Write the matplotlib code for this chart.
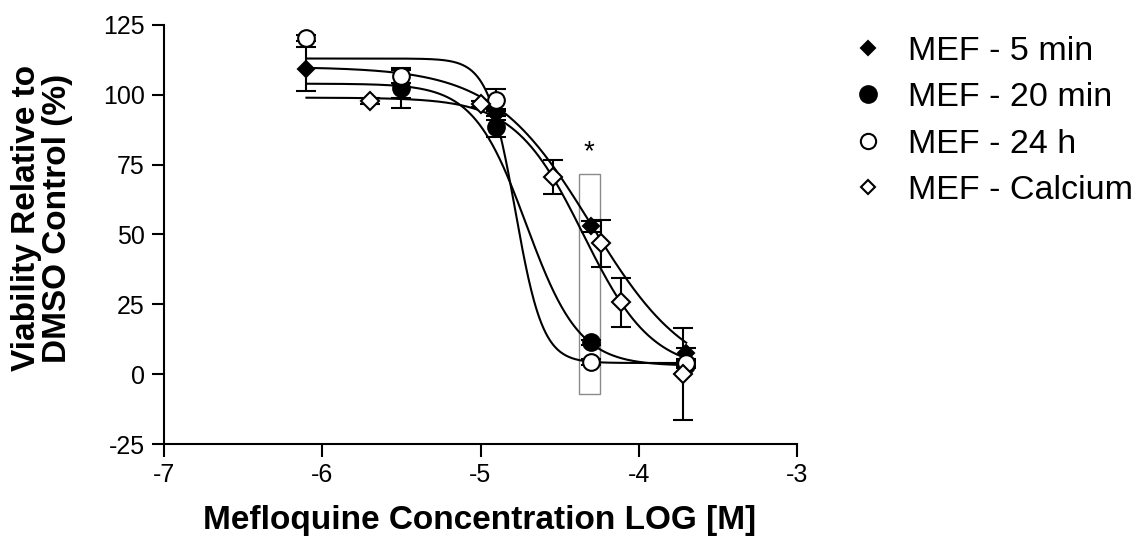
import numpy as np
import matplotlib
matplotlib.use("Agg")
import matplotlib.pyplot as plt
from matplotlib.lines import Line2D
from matplotlib.patches import Rectangle

plt.rcParams['font.family'] = ['Liberation Sans', 'DejaVu Sans']

# ---- data (log molar concentration, viability %, SEM) ----
x_5min = [-6.1, -5.5, -4.9, -4.3, -3.7]
y_5min = [109.3, 104.0, 93.0, 53.0, 7.4]
e_5min = [8.0, 5.0, 2.0, 2.0, 2.0]

x_20min = [-5.5, -4.9, -4.3, -3.7]
y_20min = [102.4, 88.6, 11.4, 3.2]
e_20min = [7.2, 3.8, 1.0, 1.0]

x_24h = [-6.1, -5.5, -4.9, -4.3, -3.7]
y_24h = [120.3, 106.7, 98.2, 4.4, 4.0]
e_24h = [1.0, 2.5, 4.0, 1.0, 1.0]

x_ca = [-5.7, -5.0, -4.54, -4.24, -4.115, -3.72]
y_ca = [97.8, 96.8, 70.5, 46.8, 25.7, 0.0]
e_ca = [1.0, 1.0, 6.0, 8.3, 8.7, 16.5]

# sigmoidal fit parameters (top, bottom, logEC50, hill) per series
fit_top = [110.0, 104.0, 113.0, 99.0]
fit_bottom = [-3.0, 3.0, 4.0, 1.0]
fit_logec50 = [-4.30, -4.71, -4.78, -4.35]
fit_hill = [1.4, 2.6, 5.0, 2.0]
fit_range = [-6.1, -3.7]

labels = ["MEF - 5 min", "MEF - 20 min", "MEF - 24 h", "MEF - Calcium"]

# highlighted region and significance mark
box_x = [-4.378, -4.248]
box_y = [-7.2, 71.7]
star_xy = [-4.313, 79.5]

x_ticks = [-7, -6, -5, -4, -3]
y_ticks = [-25, 0, 25, 50, 75, 100, 125]

W, H = 1140, 546
fig = plt.figure(figsize=(W/100, H/100), dpi=100)
ax = fig.add_axes([164/W, 1-444/H, (797-164)/W, (444-25)/H])

xs = np.linspace(fit_range[0], fit_range[1], 400)
for T, B, c, h in zip(fit_top, fit_bottom, fit_logec50, fit_hill):
    ys = B + (T - B) / (1 + 10 ** ((xs - c) * h))
    ax.plot(xs, ys, color='black', lw=1.5, zorder=2)

ax.add_patch(Rectangle((box_x[0], box_y[0]), box_x[1]-box_x[0], box_y[1]-box_y[0],
                       fill=False, edgecolor='#8a8a8a', lw=1.0, zorder=1.5))
ax.text(star_xy[0], star_xy[1], "*", ha='center', va='center', fontsize=20)

styles = [
    dict(marker='D', ms=8.2, mfc='black', mec='black'),
    dict(marker='o', ms=12, mfc='black', mec='black'),
    dict(marker='o', ms=12, mfc='white', mec='black'),
    dict(marker='D', ms=9, mfc='white', mec='black'),
]
series = [(x_5min, y_5min, e_5min), (x_20min, y_20min, e_20min),
          (x_24h, y_24h, e_24h), (x_ca, y_ca, e_ca)]
for (x, y, e), st in zip(series, styles):
    ax.errorbar(x, y, yerr=e, fmt='none', ecolor='black', elinewidth=1.5,
                capsize=7, capthick=1.5, zorder=3)
    ax.plot(x, y, linestyle='none', mew=1.5, zorder=4, **st)

ax.set_xlim(-7, -3)
ax.set_ylim(-25, 125)
ax.set_xticks(x_ticks)
ax.set_yticks(y_ticks)
ax.set_xticklabels([str(t) for t in x_ticks])
ax.set_yticklabels([str(t) for t in y_ticks])
for s in ['top', 'right']:
    ax.spines[s].set_visible(False)
for s in ['left', 'bottom']:
    ax.spines[s].set_linewidth(1.5)
ax.tick_params(direction='out', length=9, width=1.5, labelsize=18, pad=5)

fig.text(480/W, 1-521/H, "Mefloquine Concentration LOG [M]", ha='center', va='center',
         fontsize=24, fontweight='bold')
fig.text(42/W, 1-218/H, "Viability Relative to\nDMSO Control (%)", ha='center', va='center',
         rotation=90, fontsize=24, fontweight='bold', linespacing=1.0)

leg_styles = [
    dict(marker='D', ms=7.5, mfc='black', mec='black'),
    dict(marker='o', ms=12, mfc='black', mec='black'),
    dict(marker='o', ms=11, mfc='white', mec='black'),
    dict(marker='D', ms=7.5, mfc='white', mec='black'),
]
handles = [Line2D([], [], linestyle='none', mew=1.5, label=lab, **st)
           for st, lab in zip(leg_styles, labels)]
fig.legend(handles=handles, loc='upper left', bbox_to_anchor=(851/W, 1-36/H),
           frameon=False, fontsize=24.5, labelspacing=0.45, handletextpad=0.68,
           handlelength=1.0, borderaxespad=0, borderpad=0)

fig.savefig("out.png", dpi=100)
